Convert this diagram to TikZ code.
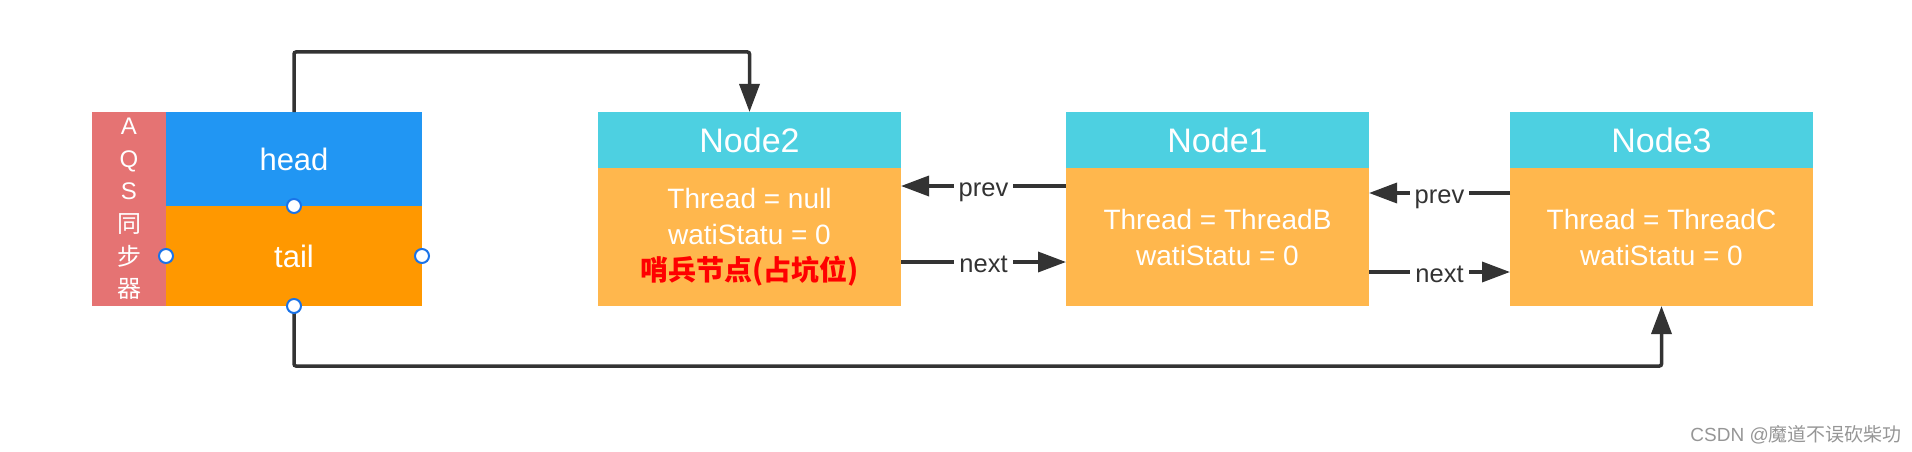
\documentclass[tikz,border=0pt]{standalone}
\usepackage{fontspec}
\setmainfont{Liberation Sans}
\newfontfamily\cjk{Noto Sans CJK SC}
\usetikzlibrary{arrows.meta}
\definecolor{aqsred}{RGB}{229,115,115}
\definecolor{headblue}{RGB}{33,150,243}
\definecolor{tailorange}{RGB}{255,152,0}
\definecolor{nodecyan}{RGB}{77,208,225}
\definecolor{nodebody}{RGB}{255,183,77}
\definecolor{linec}{RGB}{51,51,51}
\definecolor{dotblue}{RGB}{26,115,232}
\definecolor{wmgray}{RGB}{150,150,150}
\begin{document}
\begin{tikzpicture}[x=1pt,y=-1pt,
  box/.style={inner sep=0pt, outer sep=0pt, anchor=north west, text=white, align=center},
  conn/.style={draw=linec, line width=3.5pt, -{Triangle[length=28pt,width=20pt]}},
  lbl/.style={fill=white, text=linec, inner xsep=5pt, inner ysep=2pt, anchor=base, yshift=-10.5pt,
    font=\fontsize{25.5}{25.5}\selectfont},
  dot/.style={circle, draw=dotblue, fill=white, line width=2pt, minimum size=14pt, inner sep=0pt},
  hdr/.style={box, fill=nodecyan, minimum width=303pt, minimum height=56pt, font=\fontsize{34}{34}\selectfont},
  bdy/.style={box, fill=nodebody, minimum width=303pt, minimum height=138pt, font=\fontsize{28}{36}\selectfont}
]
\useasboundingbox (0,0) rectangle (1912,452);

% AQS synchronizer
\node[box, fill=aqsred, minimum width=74pt, minimum height=194pt, font=\fontsize{24}{32.6}\selectfont]
  (aqs) at (92,112) {A\\Q\\S\\{\cjk 同}\\{\cjk 步}\\{\cjk 器}};
\node[box, fill=headblue, minimum width=256pt, minimum height=94pt, font=\fontsize{31}{31}\selectfont]
  (head) at (166,112) {head};
\node[box, fill=tailorange, minimum width=256pt, minimum height=100pt, font=\fontsize{31}{31}\selectfont]
  (tail) at (166,206) {tail};

% Node2
\node[hdr] (n2h) at (598,112) {Node2};
\node[bdy] (n2b) at (598,168) {Thread = null\\watiStatu = 0\\{\color{red}\cjk\bfseries 哨兵节点(占坑位)}};
% Node1
\node[hdr] (n1h) at (1066,112) {Node1};
\node[bdy] (n1b) at (1066,168) {Thread = ThreadB\\watiStatu = 0};
% Node3
\node[hdr] (n3h) at (1510,112) {Node3};
\node[bdy] (n3b) at (1510,168) {Thread = ThreadC\\watiStatu = 0};

% helper levels
\coordinate (ytop) at (0,52);
\coordinate (ybot) at (0,366);
\coordinate (yp1) at (0,186);
\coordinate (yn1) at (0,262);
\coordinate (yp2) at (0,193);
\coordinate (yn2) at (0,272);

% prev / next links
\draw[conn] (n1b.west |- yp1) -- node[lbl] {prev} (n2b.east |- yp1);
\draw[conn] (n2b.east |- yn1) -- node[lbl] {next} (n1b.west |- yn1);
\draw[conn] (n3b.west |- yp2) -- node[lbl] {prev} (n1b.east |- yp2);
\draw[conn] (n1b.east |- yn2) -- node[lbl] {next} (n3b.west |- yn2);

% head / tail pointers
\draw[conn, rounded corners=2pt] (head.north) -- (head.north |- ytop) -| (n2h.north);
\draw[conn, rounded corners=2pt] (tail.south) -- (tail.south |- ybot) -| (n3b.south);

% connection points
\node[dot] (d1) at (head.south) {};
\node[dot] (d2) at (tail.south) {};
\node[dot] (d3) at (tail.west) {};
\node[dot] (d4) at (tail.east) {};

% watermark
\node[anchor=base east, text=wmgray, inner sep=0pt, font=\fontsize{19}{19}\selectfont]
  (wm) at (1902,441) {CSDN @{\cjk 魔道不误砍柴功}};
\end{tikzpicture}
\end{document}
